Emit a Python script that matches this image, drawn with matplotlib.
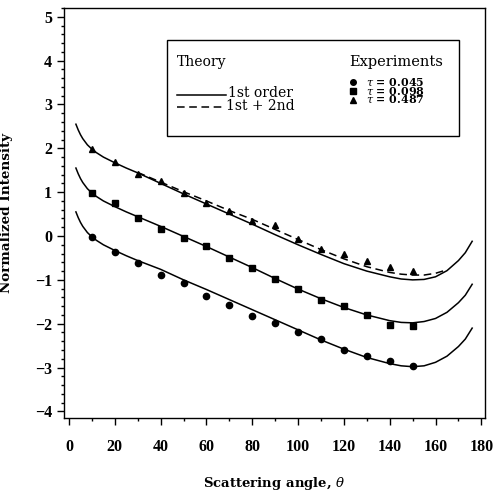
import matplotlib
matplotlib.use("Agg")
import matplotlib.pyplot as plt
from matplotlib.ticker import MultipleLocator
from matplotlib.patches import Rectangle
from matplotlib.lines import Line2D

# measured points (scattering angle in degrees)
angles_exp = [10, 20, 30, 40, 50, 60, 70, 80, 90, 100, 110, 120, 130, 140, 150]
tau_045 = [-0.02, -0.37, -0.61, -0.90, -1.07, -1.36, -1.57, -1.82, -1.98,
           -2.20, -2.34, -2.61, -2.73, -2.86, -2.96]
tau_098 = [0.99, 0.76, 0.40, 0.16, -0.05, -0.23, -0.51, -0.73, -0.98,
           -1.20, -1.45, -1.60, -1.81, -2.02, -2.05]
tau_487 = [1.98, 1.69, 1.41, 1.26, 0.99, 0.75, 0.58, 0.35, 0.25,
           -0.07, -0.29, -0.42, -0.58, -0.71, -0.79]
tau_labels = ['0.045', '0.098', '0.487']

# theory curves
angles_th = [3, 4, 5, 6, 8, 10, 12, 15, 20, 25, 30, 40, 50, 60, 70, 80, 90,
             100, 110, 120, 130, 140, 145, 150, 155, 160, 165, 170, 173, 176]
th_045 = [0.55, 0.42, 0.31, 0.22, 0.08, -0.02, -0.10, -0.20, -0.33, -0.45,
          -0.56, -0.76, -1.00, -1.22, -1.45, -1.68, -1.91, -2.14, -2.37,
          -2.58, -2.77, -2.91, -2.96, -2.98, -2.96, -2.88, -2.74, -2.52,
          -2.35, -2.10]
th_098 = [1.55, 1.42, 1.31, 1.22, 1.08, 0.98, 0.90, 0.80, 0.67, 0.55, 0.44,
          0.22, -0.01, -0.24, -0.48, -0.72, -0.97, -1.21, -1.43, -1.63,
          -1.80, -1.93, -1.97, -1.98, -1.95, -1.88, -1.74, -1.52, -1.35,
          -1.10]
th_487 = [2.55, 2.42, 2.31, 2.22, 2.08, 1.98, 1.90, 1.80, 1.67, 1.55, 1.44,
          1.20, 0.96, 0.73, 0.50, 0.27, 0.03, -0.20, -0.42, -0.63, -0.80,
          -0.93, -0.98, -1.00, -0.99, -0.93, -0.79, -0.56, -0.38, -0.12]
# 1st + 2nd order, top set only (merges with solid at both ends)
angles_th2 = [30, 40, 50, 60, 70, 80, 90, 100, 110, 120, 130, 140, 145,
              150, 155, 160, 165]
th2_487 = [1.45, 1.23, 1.01, 0.80, 0.58, 0.38, 0.15, -0.08, -0.31, -0.52,
           -0.70, -0.83, -0.87, -0.89, -0.89, -0.85, -0.77]

W, H = 493, 494
plt.rcParams['font.family'] = ['DejaVu Serif']
plt.rcParams['mathtext.fontset'] = 'dejavuserif'
fig = plt.figure(figsize=(W / 100, H / 100), dpi=100)
ax = fig.add_axes([64 / W, 1 - 418 / H, (485 - 64) / W, (418 - 8) / H])

lw = 1.1
for th in (th_045, th_098, th_487):
    ax.plot(angles_th, th, color='black', lw=lw)
ax.plot(angles_th2, th2_487, color='black', lw=lw, ls=(0, (5, 3)))

ax.plot(angles_exp, tau_045, 'o', color='black', ms=4.5)
ax.plot(angles_exp, tau_098, 's', color='black', ms=4.3)
ax.plot(angles_exp, tau_487, '^', color='black', ms=5)

ax.set_xlim(-2.2, 181.6)
ax.set_ylim(-4.15, 5.2)
ax.xaxis.set_major_locator(MultipleLocator(20))
ax.xaxis.set_minor_locator(MultipleLocator(10))
ax.yaxis.set_major_locator(MultipleLocator(1))
ax.yaxis.set_minor_locator(MultipleLocator(0.2))
ax.tick_params(which='both', direction='out', width=1, top=False, right=False)
ax.tick_params(which='major', length=5)
ax.tick_params(which='minor', length=2.5)
ax.tick_params(axis='x', pad=10)
ax.tick_params(axis='y', pad=3.5)
for lab in ax.get_xticklabels() + ax.get_yticklabels():
    lab.set_fontfamily('Liberation Serif')
    lab.set_fontweight('bold')
    lab.set_fontsize(11.5)
for s in ax.spines.values():
    s.set_linewidth(1)

ax.set_xlabel(r'Scattering angle, $\theta$', fontsize=9.5, fontweight='bold')
ax.xaxis.set_label_coords(0.5, -0.14)
ax.set_ylabel('Normalized Intensity', fontsize=9.7, fontweight='bold')
ax.yaxis.set_label_coords(-0.12, 0.5)

# legend box drawn in figure pixels
def fx(px):
    return px / W

def fy(py):
    return 1 - py / H

fig.add_artist(Rectangle((fx(167), fy(136)), fx(459) - fx(167), fy(40) - fy(136),
                         transform=fig.transFigure, fill=False, lw=1,
                         edgecolor='black'))
fig.text(fx(177), fy(62), 'Theory', fontsize=10, va='center')
fig.add_artist(Line2D([fx(177), fx(226)], [fy(95), fy(95)], color='black',
                      lw=lw, transform=fig.transFigure))
fig.text(fx(228), fy(93), '1st order', fontsize=10, va='center')
fig.add_artist(Line2D([fx(177), fx(224)], [fy(107), fy(107)], color='black',
                      lw=lw, ls=(0, (5, 3)), transform=fig.transFigure))
fig.text(fx(226), fy(106), '1st + 2nd', fontsize=10, va='center')

fig.text(fx(349), fy(62), 'Experiments', fontsize=10.5, va='center')
row_y = [82, 91, 100]
for m, py, ms in zip(['o', 's', '^'], row_y, [4, 3.8, 4.3]):
    fig.add_artist(Line2D([fx(353)], [fy(py)], marker=m, color='black', ms=ms,
                          ls='none', transform=fig.transFigure))
fig.text(fx(366), fy(91),
         '\n'.join(r'$\tau$ = ' + t for t in tau_labels),
         fontsize=7.9, fontweight='bold', va='center', linespacing=0.66)

fig.savefig('out.png', dpi=100)
